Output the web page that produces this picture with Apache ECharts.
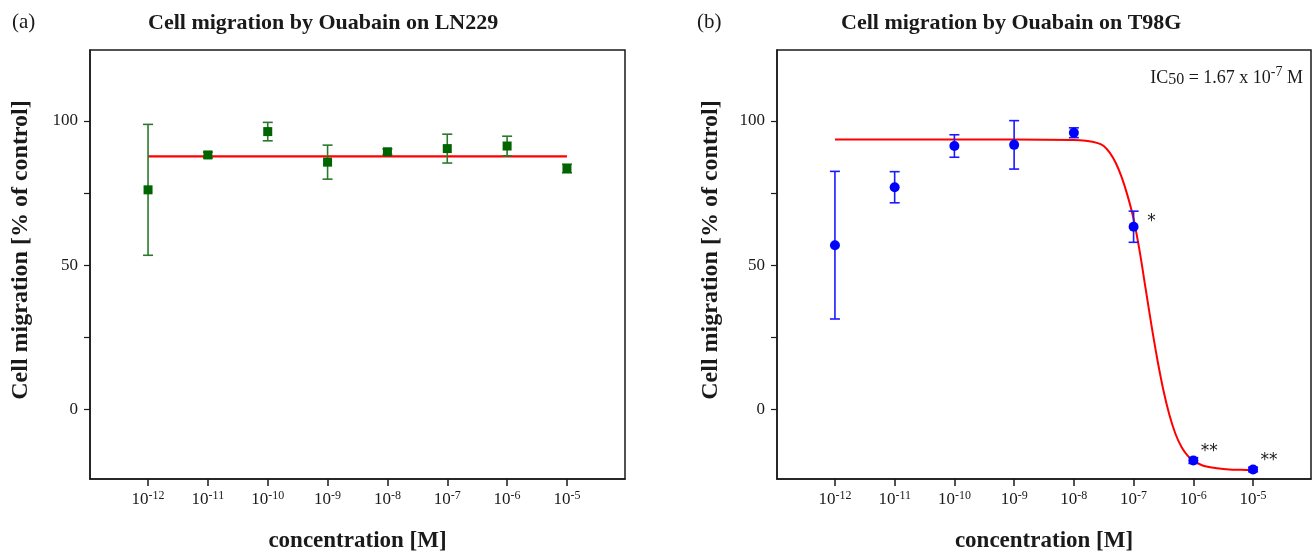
<!DOCTYPE html>
<html>
<head>
<meta charset="utf-8">
<script src="https://cdn.jsdelivr.net/npm/echarts@6/dist/echarts.min.js"></script>
<style>
html,body{margin:0;padding:0;background:#fff;}
#chart{width:1313px;height:558px;}
</style>
</head>
<body>
<div id="chart"></div>
<script>
// ---- data ----
const xExponents = [-12, -11, -10, -9, -8, -7, -6, -5];
const yTickValues = [0, 50, 100];
const yMinorTicks = [0, 25, 50, 75, 100];

const ln229Mean = [76.1, 88.2, 96.3, 85.7, 89.3, 90.4, 91.3, 83.5];
const ln229Err  = [22.7, 1.0, 3.2, 5.9, 1.0, 5.0, 3.4, 1.5];
const ln229FitX = [-12, -5];
const ln229FitY = [87.7, 87.7];

const t98gMean  = [56.9, 77.0, 91.3, 91.7, 95.9, 63.3, -17.8, -20.9];
const t98gErr   = [25.6, 5.4, 3.9, 8.4, 1.7, 5.4, 1.0, 0.8];
const t98gStars = ['', '', '', '', '', '*', '**', '**'];
const t98gFitX  = [-12, -11, -10, -9, -8, -7.8, -7.6, -7.5, -7.4, -7.3, -7.2, -7.1, -7.0, -6.9, -6.8, -6.7, -6.6, -6.5, -6.4, -6.3, -6.2, -6.1, -6.0, -5.9, -5.8, -5.6, -5.4, -5.2, -5.0];
const t98gFitY  = [93.6, 93.6, 93.6, 93.6, 93.4, 93.1, 92.3, 91.3, 89.0, 85.5, 80.5, 74.0, 66.0, 55.0, 42.0, 29.0, 17.0, 6.5, -2.0, -8.5, -13.0, -16.0, -17.8, -19.0, -19.8, -20.5, -20.9, -21.0, -21.1];

const titles = ['Cell migration by Ouabain on LN229', 'Cell migration by Ouabain on T98G'];
const panelTags = ['(a)', '(b)'];
const yName = 'Cell migration [% of control]';
const xName = 'concentration [M]';

// ---- styling ----
const SERIF = '"Liberation Serif", "DejaVu Serif", serif';
const INK = '#1a1a1a';
const grids = [
  {left: 90, top: 50, width: 535, height: 430},
  {left: 777, top: 50, width: 534, height: 430}
];

function xAxisCfg(i) {
  return {
    type: 'value', gridIndex: i, min: -12.97, max: -4.03,
    axisLine: {show: true, onZero: false, lineStyle: {color: INK, width: 1.5}},
    axisTick: {show: true, customValues: xExponents, length: 7, lineStyle: {color: INK, width: 1.5}},
    axisLabel: {
      customValues: xExponents, margin: 11, color: INK,
      formatter: v => '{b|10}{s|' + v + '}',
      rich: {
        b: {fontFamily: SERIF, fontSize: 17, color: INK},
        s: {fontFamily: SERIF, fontSize: 12, color: INK, padding: [0, 0, 8, 0]}
      }
    },
    splitLine: {show: false},
    name: xName, nameLocation: 'middle', nameGap: 51,
    nameTextStyle: {fontFamily: SERIF, fontWeight: 'bold', fontSize: 23, color: INK}
  };
}
function yAxisCfg(i) {
  return {
    type: 'value', gridIndex: i, min: -24.2, max: 124.6,
    axisLine: {show: true, onZero: false, lineStyle: {color: INK, width: 1.5}},
    axisTick: {show: true, customValues: yMinorTicks, length: 6, lineStyle: {color: INK, width: 1.2}},
    axisLabel: {customValues: yTickValues, margin: 12, fontFamily: SERIF, fontSize: 17, color: INK},
    splitLine: {show: false}
  };
}

function errorBarSeries(i, mean, err, color) {
  return {
    type: 'custom', xAxisIndex: i, yAxisIndex: i, z: 3,
    data: xExponents.map((x, k) => [x, mean[k], err[k]]),
    renderItem: function (params, api) {
      const x = api.value(0), m = api.value(1), e = api.value(2);
      const t = api.coord([x, m + e]);
      const b = api.coord([x, m - e]);
      const hw = 5;
      const st = {stroke: color, lineWidth: 1.6};
      return {type: 'group', children: [
        {type: 'line', shape: {x1: t[0], y1: t[1], x2: b[0], y2: b[1]}, style: st},
        {type: 'line', shape: {x1: t[0] - hw, y1: t[1], x2: t[0] + hw, y2: t[1]}, style: st},
        {type: 'line', shape: {x1: b[0] - hw, y1: b[1], x2: b[0] + hw, y2: b[1]}, style: st}
      ]};
    }
  };
}

const option = {
  animation: false,
  backgroundColor: '#fff',
  title: [
    {text: titles[0], left: 143, top: 7, textStyle: {fontFamily: SERIF, fontWeight: 'bold', fontSize: 22, color: INK}},
    {text: titles[1], left: 836, top: 7, textStyle: {fontFamily: SERIF, fontWeight: 'bold', fontSize: 22, color: INK}},
    {text: panelTags[0], left: 7, top: 7, textStyle: {fontFamily: SERIF, fontWeight: 'normal', fontSize: 21, color: INK}},
    {text: panelTags[1], left: 692, top: 7, textStyle: {fontFamily: SERIF, fontWeight: 'normal', fontSize: 21, color: INK}}
  ],
  grid: grids.map(g => Object.assign({show: true, borderColor: INK, borderWidth: 1.5, backgroundColor: 'transparent'}, g)),
  xAxis: [xAxisCfg(0), xAxisCfg(1)],
  yAxis: [yAxisCfg(0), yAxisCfg(1)],
  graphic: [
    {type: 'text', x: 21, y: 250, rotation: Math.PI / 2,
     style: {text: yName, align: 'center', verticalAlign: 'middle', font: 'bold 24px ' + SERIF, fill: INK}},
    {type: 'text', x: 711, y: 250, rotation: Math.PI / 2,
     style: {text: yName, align: 'center', verticalAlign: 'middle', font: 'bold 24px ' + SERIF, fill: INK}},
    {type: 'text', x: 1303, y: 80,
     style: {
       text: '{n|IC}{sub|50}{n| = 1.67 x 10}{sup|-7}{n| M}',
       align: 'right', verticalAlign: 'middle',
       rich: {
         n: {fontFamily: SERIF, fontSize: 18, fill: INK, padding: [0, 0, 4, 0]},
         sub: {fontFamily: SERIF, fontSize: 16, fill: INK},
         sup: {fontFamily: SERIF, fontSize: 14, fill: INK, padding: [0, 0, 15, 0]}
       }
     }}
  ],
  series: [
    // LN229
    {type: 'line', xAxisIndex: 0, yAxisIndex: 0, z: 2, showSymbol: false, silent: true,
     data: ln229FitX.map((x, k) => [x, ln229FitY[k]]),
     lineStyle: {color: '#ff0000', width: 2.2}},
    errorBarSeries(0, ln229Mean, ln229Err, '#2a7a2a'),
    {type: 'scatter', xAxisIndex: 0, yAxisIndex: 0, z: 4, symbol: 'rect', symbolSize: 9,
     itemStyle: {color: '#006400', opacity: 1},
     data: xExponents.map((x, k) => [x, ln229Mean[k]])},
    // T98G
    {type: 'line', xAxisIndex: 1, yAxisIndex: 1, z: 2, showSymbol: false, silent: true,
     smooth: 0.35,
     data: t98gFitX.map((x, k) => [x, t98gFitY[k]]),
     lineStyle: {color: '#ff0000', width: 2}},
    errorBarSeries(1, t98gMean, t98gErr, '#1a1aff'),
    {type: 'scatter', xAxisIndex: 1, yAxisIndex: 1, z: 4, symbol: 'circle', symbolSize: 10,
     itemStyle: {color: '#0000ff', opacity: 1},
     data: xExponents.map((x, k) => ({
       value: [x, t98gMean[k]],
       label: {show: t98gStars[k] !== '', formatter: t98gStars[k], position: 'inside',
               offset: k === 5 ? [18, -5] : [16, -9],
               fontFamily: '"DejaVu Sans", sans-serif', fontSize: 17, color: INK}
     }))}
  ]
};

const chart = echarts.init(document.getElementById('chart'), null, {renderer: 'canvas'});
chart.setOption(option);
</script>
</body>
</html>
